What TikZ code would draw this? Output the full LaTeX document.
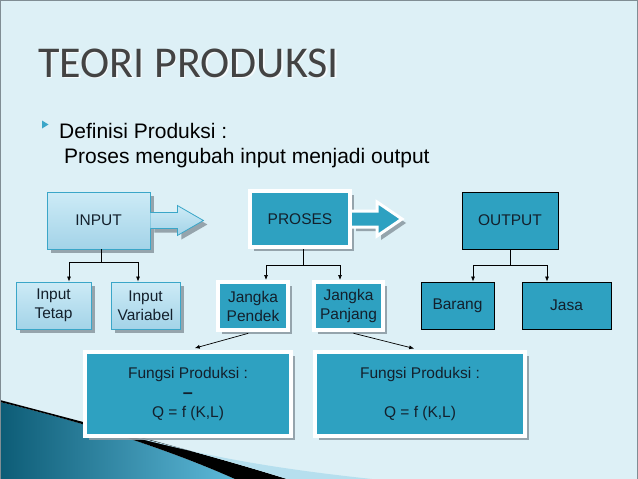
\documentclass[tikz,border=0pt]{standalone}
\usepackage{fontspec}
\setmainfont{Liberation Sans}
\newfontfamily\titlefont{Carlito}
\usetikzlibrary{arrows.meta,shadows,calc}

\definecolor{slidebg}{HTML}{DDF0F6}
\definecolor{tealfill}{HTML}{2EA1C1}
\definecolor{tealedge}{HTML}{3AA6C8}
\definecolor{lighttop}{HTML}{CDEBF6}
\definecolor{lightbot}{HTML}{A3D3E8}
\definecolor{shadegray}{HTML}{8E9CA4}
\definecolor{titlegray}{HTML}{434343}
\definecolor{inktext}{HTML}{13202C}
\definecolor{swoopdark}{HTML}{0D5C76}
\definecolor{swooplight}{HTML}{5DB9D9}

\tikzset{
  boxtext/.style={font=\fontsize{15.5}{19}\selectfont, text=inktext, align=center, inner sep=0pt},
  boxshade/.style={drop shadow={shadow xshift=4pt, shadow yshift=-4pt, fill=shadegray, opacity=0.9}},
  lightbox/.style={boxtext, boxshade, draw=tealedge, line width=0.8pt, top color=lighttop, bottom color=lightbot},
  tealbox/.style={boxtext, boxshade, draw=white, line width=4pt, fill=tealfill},
  plainbox/.style={boxtext, draw=black, line width=0.8pt, fill=tealfill},
  conn/.style={line width=0.7pt, -{Latex[length=5pt,width=4pt]}},
  bus/.style={line width=0.7pt}
}

\begin{document}
\begin{tikzpicture}[x=1pt,y=-1pt]
\useasboundingbox (0,0) rectangle (638,479);
\fill[slidebg] (0,0) rectangle (638,479);

% swoosh
\shade[left color=swoopdark, right color=swooplight]
  (0,402) .. controls (90,424) and (170,450) .. (235,479) -- (0,479) -- cycle;
\fill[black] (0,402) .. controls (90,424) and (170,450) .. (235,479) -- (287,479)
  .. controls (200,452) and (90,424) .. (0,400) -- cycle;
\fill[swooplight!45!white] (110,431) .. controls (190,452) and (250,466) .. (372,479)
  -- (287,479) .. controls (220,458) and (160,442) .. (110,431) -- cycle;
\draw[shadegray!90!black, line width=1.2pt] (0.6,479) -- (0.6,0.6) -- (637.4,0.6) -- (637.4,479);

% title and text
\node[anchor=base west, inner sep=0pt, text=white!70!slidebg, font=\titlefont\fontsize{44}{44}\selectfont] at (39.5,78.5) {TEORI PRODUKSI};
\node[anchor=base west, inner sep=0pt, text=titlegray, font=\titlefont\fontsize{44}{44}\selectfont] (title) at (38,77) {TEORI PRODUKSI};
\fill[tealedge] (42,120.5) -- (48.5,124.5) -- (42,128.5) -- cycle;
\node[anchor=base west, inner sep=0pt, font=\fontsize{21}{21}\selectfont] (defn) at (59,138) {Definisi Produksi :};
\node[anchor=base west, inner sep=0pt, font=\fontsize{21}{21}\selectfont] (proc) at (64,163) {Proses mengubah input menjadi output};

% top row
\node[lightbox, minimum width=103pt, minimum height=57pt] (inp) at (98.5,220.5) {INPUT};
\draw[boxshade, draw=tealedge, line width=0.8pt, top color=lighttop, bottom color=lightbot]
  ([yshift=8pt]inp.east) -- ++(27,0) -- ++(0,-7) -- ++(26,15) -- ++(-26,15) -- ++(0,-7) -- ([yshift=-8pt]inp.east);
\node[tealbox, minimum width=100pt, minimum height=56pt] (proses) at (300,219) {PROSES};
\draw[boxshade, draw=white, line width=3pt, fill=tealfill]
  ([yshift=8pt]proses.east) -- ++(25,0) -- ++(0,-9) -- ++(25,17) -- ++(-25,17) -- ++(0,-9) -- ([yshift=-8pt]proses.east);
\node[plainbox, minimum width=96pt, minimum height=57pt] (out) at (510,220.5) {OUTPUT};

% second row
\node[lightbox, minimum width=75pt, minimum height=47pt] (tetap) at (53.5,305.5) {Input\\Tetap};
\node[lightbox, minimum width=69pt, minimum height=47pt] (variabel) at (145.5,305.5) {Input\\Variabel};
\node[tealbox, minimum width=70pt, minimum height=48pt] (pendek) at (253,306) {Jangka\\Pendek};
\node[tealbox, minimum width=69pt, minimum height=48pt] (panjang) at (348.5,306) {Jangka\\Panjang};
\node[plainbox, minimum width=73pt, minimum height=47pt] (barang) at (457.5,305.5) {Barang};
\node[plainbox, minimum width=89pt, minimum height=47pt] (jasa) at (566.5,305.5) {Jasa};

% bottom row
\node[tealbox, minimum width=206pt, minimum height=84pt, font=\fontsize{15.5}{19.5}\selectfont] (fungsi1) at (188,394)
  {Fungsi Produksi :\\{\fontsize{18}{19.5}\selectfont\textbf{--}}\\Q = f (K,L)};
\node[tealbox, minimum width=210pt, minimum height=84pt, font=\fontsize{15.5}{19.5}\selectfont] (fungsi2) at (420,394)
  {Fungsi Produksi :\\\strut\\Q = f (K,L)};

% connectors
\draw[bus] ([xshift=3pt]inp.south) -- ++(0,13) coordinate (inbus);
\draw[conn] (inbus) -| ([xshift=15.5pt]tetap.north);
\draw[conn] (inbus) -| ([xshift=-7.5pt]variabel.north);
\draw[bus] ([xshift=3pt]proses.south) -- ++(0,16) coordinate (probus);
\draw[conn] (probus) -| ([xshift=13pt]pendek.north);
\draw[conn] (probus) -| ([xshift=-8.5pt]panjang.north);
\draw[bus] (out.south) -- ++(0,16) coordinate (outbus);
\draw[conn] (outbus) -| ([xshift=15.5pt]barang.north);
\draw[conn] (outbus) -| ([xshift=-19.5pt]jasa.north);
\draw[conn, shorten <=5pt, shorten >=7pt] (pendek.south) -- (fungsi1.north);
\draw[conn, shorten <=5pt, shorten >=6pt] (panjang.south) -- (fungsi2.north);
\end{tikzpicture}
\end{document}
